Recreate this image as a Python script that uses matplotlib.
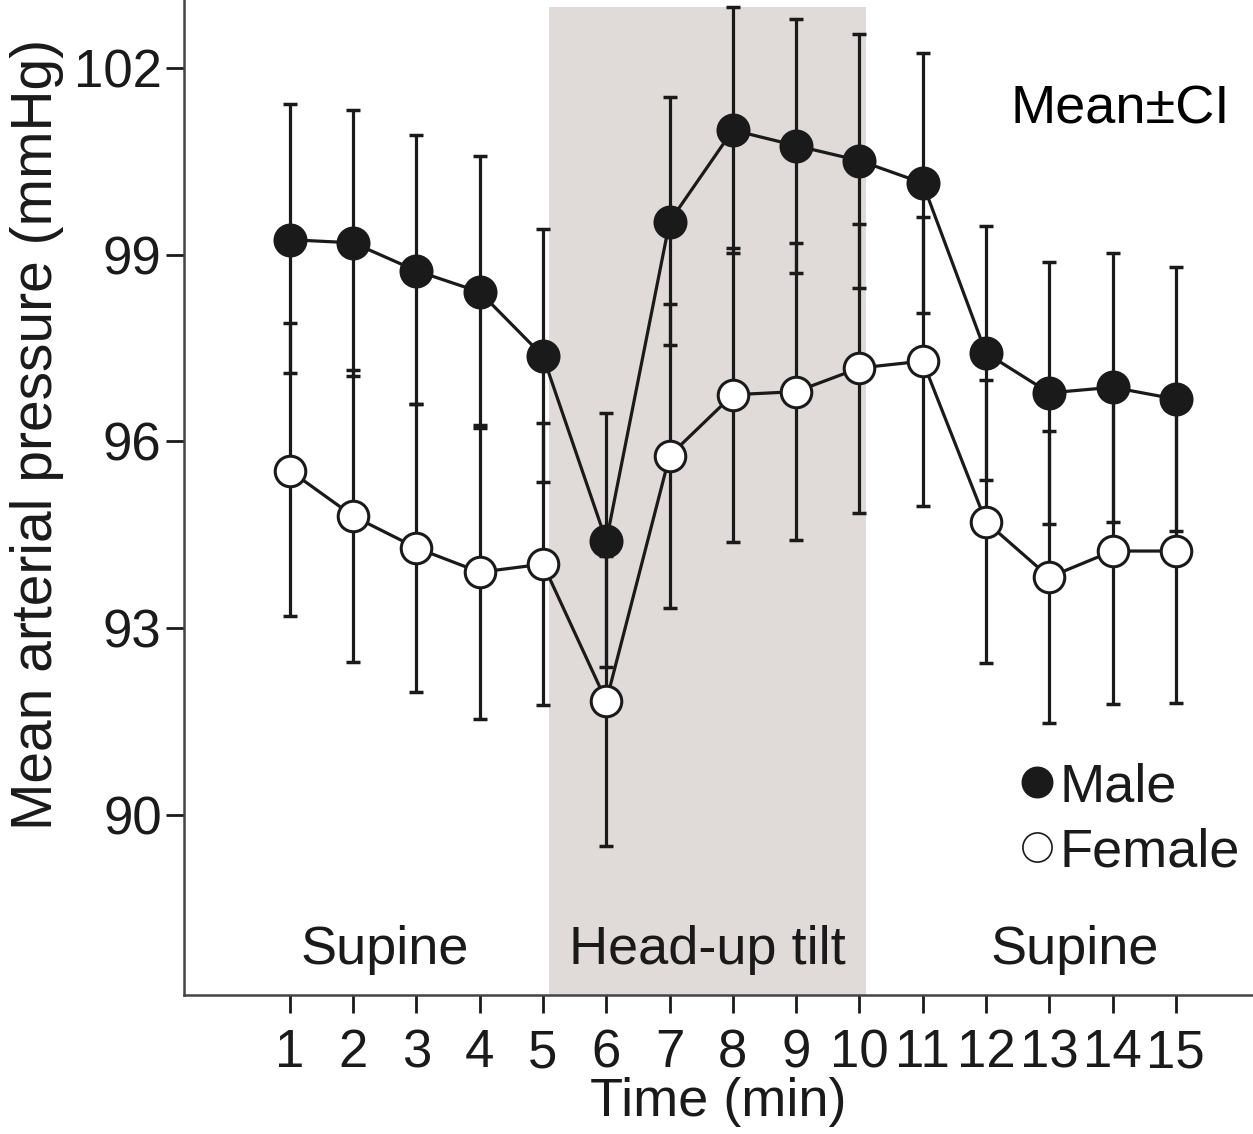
import matplotlib
matplotlib.use("Agg")
from matplotlib import pyplot as plt
from matplotlib.lines import Line2D

plt.rcParams['font.family'] = ['Liberation Sans', 'DejaVu Sans']

minutes = list(range(1, 16))

male_mean = [99.24, 99.19, 98.74, 98.40, 97.37, 94.40, 99.53, 101.00,
             100.75, 100.51, 100.15, 97.42, 96.78, 96.87, 96.68]
male_lo = [97.10, 97.05, 96.60, 96.22, 95.35, 92.38, 97.55, 99.02,
           98.71, 98.47, 98.06, 95.38, 94.68, 94.71, 94.56]
male_hi = [101.42, 101.33, 100.92, 100.59, 99.41, 96.46, 101.53, 102.98,
           102.79, 102.55, 102.24, 99.46, 98.88, 99.03, 98.80]

female_mean = [95.53, 94.80, 94.29, 93.90, 94.03, 91.83, 95.77, 96.75,
               96.80, 97.18, 97.29, 94.71, 93.82, 94.24, 94.24]
female_lo = [93.20, 92.46, 91.98, 91.54, 91.77, 89.50, 93.33, 94.39,
             94.42, 94.85, 94.96, 92.44, 91.48, 91.78, 91.80]
female_hi = [97.90, 97.14, 96.60, 96.26, 96.29, 94.16, 98.20, 99.10,
             99.18, 99.50, 99.60, 96.98, 96.16, 96.70, 96.68]

y_ticks = [90, 93, 96, 99, 102]
tilt_start, tilt_end = 5.1, 10.1

ink = '#1a1a1a'
shade = '#e0dbd8'

fig = plt.figure(figsize=(12.53, 11.34), dpi=100)
ax = fig.add_axes([0.1468, 0.1226, 0.8532, 0.8774])
ax.set_xlim(-0.675, 16.22)
ax.set_ylim(87.11, 103.09)

ax.fill_between([tilt_start, tilt_end], 87.11, 102.98, color=shade, lw=0, zorder=0)

# CI bars first, so the markers sit on top of them
for mean, lo, hi in [(male_mean, male_lo, male_hi), (female_mean, female_lo, female_hi)]:
    err = [[m - l for m, l in zip(mean, lo)], [h - m for m, h in zip(mean, hi)]]
    ax.errorbar(minutes, mean, yerr=err, fmt='none', ecolor=ink, elinewidth=2.3,
                capsize=5, capthick=2.5, zorder=2)

ax.plot(minutes, male_mean, color=ink, lw=2.3, marker='o', ms=23,
        mfc=ink, mec=ink, mew=1.5, zorder=4)
ax.plot(minutes, female_mean, color=ink, lw=2.3, marker='o', ms=22,
        mfc='white', mec=ink, mew=2.2, zorder=3)

ax.text(2.5, 87.6, 'Supine', fontsize=39, ha='center', va='baseline', color=ink)
ax.text(7.59, 87.6, 'Head-up tilt', fontsize=39, ha='center', va='baseline', color=ink)
ax.text(13.4, 87.6, 'Supine', fontsize=39, ha='center', va='baseline', color=ink)
ax.text(14.12, 101.33, 'Mean\u00b1CI', fontsize=39, ha='center', va='center', color='black')

handles = [Line2D([], [], ls='none', marker='o', ms=22, mfc=ink, mec=ink),
           Line2D([], [], ls='none', marker='o', ms=21, mfc='white', mec=ink, mew=1.2)]
ax.legend(handles, ['Male', 'Female'], loc='upper right', bbox_to_anchor=(16.02, 90.85),
          bbox_transform=ax.transData, frameon=False, fontsize=39, borderpad=0,
          borderaxespad=0, handlelength=0.6, handletextpad=0.12, labelspacing=0.28,
          labelcolor=ink)

ax.set_xticks(minutes)
ax.set_xticklabels([str(m) for m in minutes])
ax.set_yticks(y_ticks)
ax.tick_params(axis='both', labelsize=38, colors=ink, length=13, width=2)
ax.tick_params(axis='y', pad=3)
ax.tick_params(axis='x', pad=11)

ax.set_xlabel('Time (min)', fontsize=39, color=ink, labelpad=-1)
ax.set_ylabel('Mean arterial pressure (mmHg)', fontsize=41, color=ink)
ax.yaxis.set_label_coords(-0.112, 0.563)

for side in ['top', 'right']:
    ax.spines[side].set_visible(False)
for side in ['left', 'bottom']:
    ax.spines[side].set_color('#444444')
    ax.spines[side].set_linewidth(1.8)

fig.savefig('out.png', dpi=100)
